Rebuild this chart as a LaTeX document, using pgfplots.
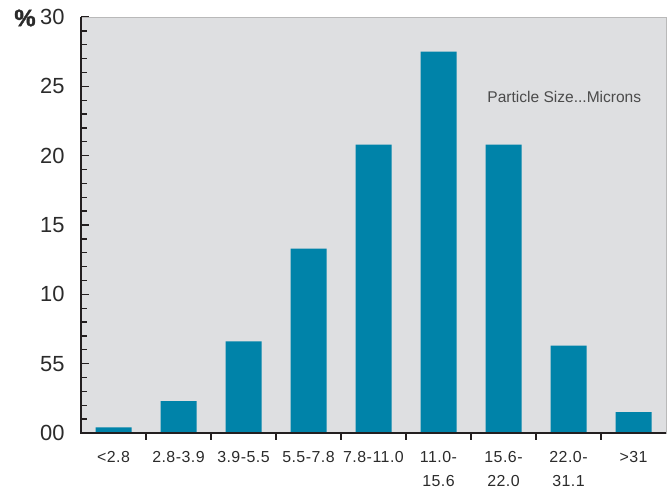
\documentclass[border=0pt]{standalone}
\usepackage{fontspec}
\setmainfont{Liberation Sans}
\usepackage{pgfplots}
\usepackage{pgfplotstable}
\pgfplotsset{compat=1.18}
\definecolor{barblue}{HTML}{0083A9}
\definecolor{bggray}{HTML}{DEDFE1}
\definecolor{axdark}{HTML}{231F20}
\definecolor{txt}{HTML}{2B2B2B}

\pgfplotstableread{
idx pct
0 0.4
1 2.3
2 6.6
3 13.3
4 20.8
5 27.5
6 20.8
7 6.3
8 1.5
}\sizedist

\begin{document}
\begin{tikzpicture}
\useasboundingbox (-81bp,-58bp) rectangle (588bp,433bp);
\begin{axis}[
    at={(0,0)}, anchor=south west,
    scale only axis,
    width=585bp, height=416bp,
    xmin=-0.5, xmax=8.5,
    ymin=0, ymax=30,
    ybar, bar width=36bp,
    axis background/.style={fill=bggray},
    axis line style={draw=gray!55, line width=0.8pt},
    xtick={0,...,8},
    xticklabels={{<2.8},{2.8-3.9},{3.9-5.5},{5.5-7.8},{7.8-11.0},{11.0-\\15.6},{15.6-\\22.0},{22.0-\\31.1},{>31}},
    major x tick style={draw=none},
    xticklabel style={font=\addfontfeature{LetterSpace=3}\fontsize{16}{24}\selectfont, text=txt, align=center, anchor=north, yshift=-15bp},
    ytick={0,5,...,30},
    yticklabels={00,55,10,15,20,25,30},
    minor ytick={1,2,3,4,6,7,8,9,11,12,13,14,16,17,18,19,21,22,23,24,26,27,28,29},
    ytick pos=left,
    tick align=inside,
    major tick length=8bp,
    minor tick length=5.5bp,
    major y tick style={draw=axdark, line width=1.3pt},
    minor y tick style={draw=axdark, line width=1.3pt},
    yticklabel style={font=\fontsize{22}{26}\selectfont, text=txt, xshift=-13bp},
    clip=false,
]
\addplot[fill=barblue, draw=none] table[x=idx, y=pct] {\sizedist};

\draw[axdark, line width=2.6pt] (rel axis cs:0,1) -- (rel axis cs:0,0) -- (rel axis cs:1,0);
\draw[axdark, line width=2pt] (axis cs:0.5,0) -- ++(0pt,-7bp);
\draw[axdark, line width=2pt] (axis cs:1.5,0) -- ++(0pt,-7bp);
\draw[axdark, line width=2pt] (axis cs:2.5,0) -- ++(0pt,-7bp);
\draw[axdark, line width=2pt] (axis cs:3.5,0) -- ++(0pt,-7bp);
\draw[axdark, line width=2pt] (axis cs:4.5,0) -- ++(0pt,-7bp);
\draw[axdark, line width=2pt] (axis cs:5.5,0) -- ++(0pt,-7bp);
\draw[axdark, line width=2pt] (axis cs:6.5,0) -- ++(0pt,-7bp);
\draw[axdark, line width=2pt] (axis cs:7.5,0) -- ++(0pt,-7bp);

\node[anchor=west, inner sep=0pt, font=\fontsize{15.6}{18}\selectfont, text=txt!85] at (axis cs:5.75,24.2) {Particle Size...Microns};
\node[font=\bfseries\addfontfeature{FakeBold=1.5}\fontsize{24}{28}\selectfont, text=txt] at ([xshift=-56bp, yshift=-1bp]rel axis cs:0,1) {\%};
\end{axis}
\end{tikzpicture}
\end{document}
